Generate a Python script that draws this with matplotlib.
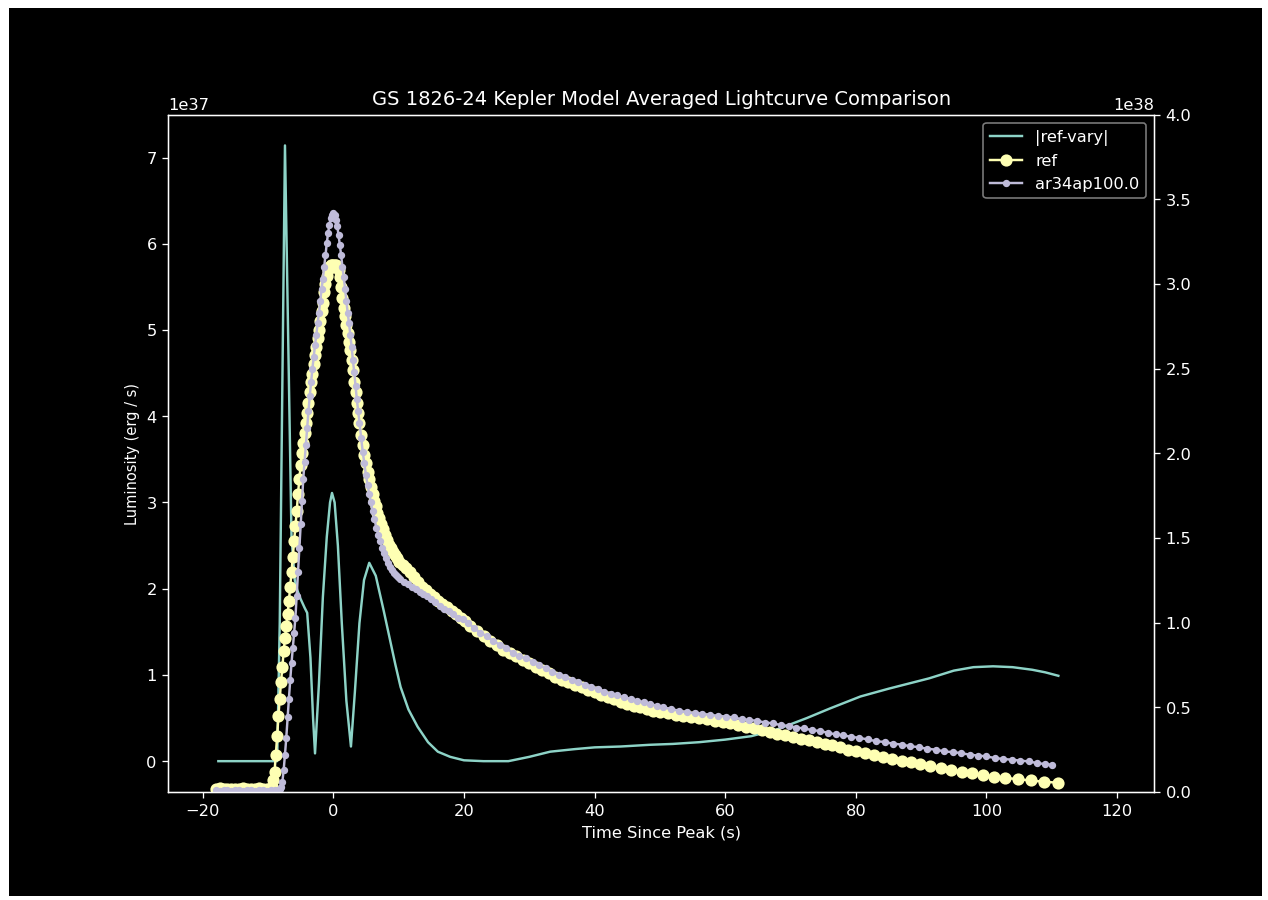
import matplotlib
matplotlib.use('Agg')
import matplotlib.pyplot as plt
from matplotlib.patches import Rectangle

plt.style.use('dark_background')

# |ref-vary| difference curve (units of 1e37 erg/s)
diff_t = [-17.6, -12.0, -8.6, -8.2, -7.4, -6.4, -5.9, -5.5, -5.0, -4.4, -4.0, -3.5, -3.1, -2.8,
          -2.2, -1.6, -1.0, -0.5, -0.2, 0.2, 0.7, 1.3, 2.0, 2.7, 3.3, 4.0, 4.7, 5.5, 6.5,
          7.7, 8.7, 9.5, 10.3, 11.5, 12.9, 14.5, 16.0, 17.9, 20.0, 23.0, 26.8, 30.0, 33.2,
          37.0, 40.0, 44.0, 48.5, 52.0, 56.0, 60.0, 64.0, 68.0, 72.5, 76.0, 80.7, 85.0,
          91.2, 95.0, 98.0, 101.0, 104.0, 107.0, 109.0, 111.0]
diff_v = [0.0, 0.0, 0.0, 1.6, 7.14, 2.6, 2.1, 1.98, 1.88, 1.78, 1.72, 1.2, 0.5, 0.09,
          0.9, 1.9, 2.6, 3.0, 3.11, 3.0, 2.5, 1.6, 0.7, 0.17, 0.8, 1.6, 2.1, 2.30, 2.15,
          1.75, 1.40, 1.12, 0.86, 0.60, 0.40, 0.22, 0.11, 0.05, 0.01, 0.0, 0.0, 0.05, 0.11,
          0.14, 0.16, 0.17, 0.19, 0.20, 0.22, 0.25, 0.29, 0.37, 0.50, 0.61, 0.75, 0.84,
          0.96, 1.05, 1.09, 1.10, 1.09, 1.06, 1.03, 0.99]

# ref averaged lightcurve (units of 1e38 erg/s)
ref_t = [-18.0, -17.4, -16.8, -16.2, -15.6, -15.0, -14.4, -13.8, -13.2, -12.6, -12.0, -11.4,
         -10.8, -10.2, -9.6,
         -9.4, -9.2, -9.0, -8.8, -8.6, -8.4, -8.2, -8.0, -7.8, -7.6, -7.4, -7.2, -7.0,
         -6.8, -6.6, -6.4, -6.2, -6.0, -5.8, -5.6, -5.4, -5.2, -5.0, -4.8, -4.6, -4.4,
         -4.2, -4.0, -3.8, -3.6, -3.4, -3.2, -3.0, -2.8, -2.6, -2.4, -2.2, -2.0, -1.8,
         -1.6, -1.4, -1.2, -1.0, -0.8, -0.6, -0.4, -0.2, 0.0, 0.2, 0.4, 0.6, 0.8, 1.0,
         1.2, 1.4, 1.6, 1.8, 2.0, 2.2, 2.4, 2.6, 2.8, 3.0, 3.2, 3.4, 3.6, 3.8, 4.0,
         4.25, 4.5, 4.75, 5.0, 5.25, 5.5, 5.75, 6.0, 6.25, 6.5, 6.75, 7.0, 7.3, 7.6, 7.9,
         8.2, 8.5, 8.8, 9.1, 9.4, 9.7, 10.0,
         10.6, 11.2, 11.8, 12.4, 13.0, 13.6, 14.2, 14.8,
         15.4, 16.0, 16.7, 17.4, 18.1, 18.8, 19.5, 20.2, 21.0, 22.0, 23.0, 24.0, 25.0,
         26.0, 27.0, 28.0, 29.0, 30.0, 31.0, 32.0, 33.0, 34.0, 35.0, 36.0, 37.0, 38.0,
         39.0, 40.0, 41.0, 42.0, 43.0, 44.0, 45.0, 46.0, 47.0, 48.0, 49.0, 50.0, 51.2,
         52.4, 53.6, 54.8, 56.0, 57.2, 58.4, 59.6, 60.8, 62.0, 63.2, 64.4, 65.6, 66.8,
         68.0, 69.2, 70.4, 71.6, 72.8, 74.0, 75.2, 76.4, 77.6, 78.8, 80.0, 81.4, 82.8,
         84.2, 85.6, 87.0, 88.4, 89.8, 91.4, 93.0, 94.6, 96.2, 97.8, 99.4, 101.1, 102.9,
         104.8, 106.8, 108.8, 110.9]
ref_v = [0.02, 0.025, 0.02, 0.02, 0.015, 0.02, 0.02, 0.025, 0.02, 0.02, 0.02, 0.025,
         0.02, 0.02, 0.025,
         0.03, 0.07, 0.12, 0.22, 0.33, 0.45, 0.55, 0.65, 0.74, 0.83, 0.91, 0.98, 1.05,
         1.13, 1.21, 1.30, 1.39, 1.48, 1.57, 1.66, 1.76, 1.85, 1.93, 2.00, 2.06, 2.12,
         2.18, 2.24, 2.30, 2.36, 2.42, 2.47, 2.53, 2.58, 2.63, 2.68, 2.73, 2.78, 2.84,
         2.89, 2.95, 3.00, 3.05, 3.08, 3.10, 3.11, 3.11, 3.11, 3.11, 3.11, 3.10, 3.08, 3.04,
         2.98, 2.92, 2.86, 2.81, 2.76, 2.71, 2.66, 2.61, 2.55, 2.49, 2.42, 2.36, 2.30, 2.24, 2.18,
         2.11, 2.05, 1.99, 1.94, 1.89, 1.85, 1.80, 1.76, 1.72, 1.69, 1.65, 1.62, 1.58, 1.55, 1.52,
         1.49, 1.46, 1.44, 1.42, 1.40, 1.38, 1.36,
         1.34, 1.32, 1.30, 1.27, 1.24, 1.21, 1.19, 1.17,
         1.15, 1.13, 1.11, 1.09, 1.07, 1.05, 1.03, 1.01, 0.98, 0.95, 0.92, 0.89,
         0.87, 0.84, 0.82, 0.80, 0.78, 0.76, 0.74, 0.72, 0.70, 0.68, 0.66, 0.65, 0.63, 0.62,
         0.60, 0.59, 0.57, 0.56, 0.55, 0.53, 0.52, 0.51, 0.50, 0.49, 0.48, 0.47, 0.465,
         0.455, 0.45, 0.44, 0.435, 0.43, 0.42, 0.415, 0.405, 0.395, 0.385, 0.375, 0.365,
         0.355, 0.345, 0.335, 0.325, 0.315, 0.305, 0.295, 0.285, 0.275, 0.265, 0.25, 0.24,
         0.23, 0.22, 0.205, 0.195, 0.185, 0.175, 0.165, 0.155, 0.14, 0.13, 0.12, 0.11, 0.10,
         0.09, 0.083, 0.076, 0.068, 0.06, 0.055]

# ar34ap100.0 model lightcurve (units of 1e38 erg/s)
mod_t = [-18.0, -17.4, -16.8, -16.2, -15.6, -15.0, -14.4, -13.8, -13.2, -12.6, -12.0, -11.4,
         -10.8, -10.2, -9.6, -9.0, -8.5,
         -8.2, -8.0, -7.8, -7.6, -7.4, -7.2, -7.0, -6.8, -6.6, -6.4, -6.2, -6.0, -5.8,
         -5.6, -5.4, -5.2, -5.0, -4.8, -4.6, -4.4, -4.2, -4.0, -3.8, -3.6, -3.4, -3.2,
         -3.0, -2.8, -2.6, -2.4, -2.2, -2.0, -1.8, -1.6, -1.4, -1.2, -1.0, -0.8, -0.6,
         -0.4, -0.2, 0.0, 0.2, 0.4, 0.6, 0.8, 1.0, 1.2, 1.4, 1.6, 1.8, 2.0, 2.2, 2.4,
         2.6, 2.8, 3.0, 3.2, 3.4, 3.6, 3.8, 4.0, 4.25, 4.5, 4.75, 5.0, 5.25, 5.5, 5.75,
         6.0, 6.3, 6.6, 6.9, 7.2, 7.5, 7.8, 8.1, 8.4, 8.7, 9.0, 9.3, 9.6, 9.9, 10.2,
         10.8, 11.4, 12.0, 12.6, 13.2, 13.8, 14.4, 15.0,
         15.6, 16.3, 17.0, 17.7, 18.4, 19.1, 19.8, 20.6, 21.5, 22.5, 23.5, 24.5, 25.5,
         26.5, 27.5, 28.5, 29.5, 30.5, 31.5, 32.5, 33.5, 34.5, 35.5, 36.5, 37.5, 38.5,
         39.5, 40.5, 41.5, 42.5, 43.5, 44.5, 45.5, 46.5, 47.5, 48.5, 49.5, 50.5, 51.7,
         52.9, 54.1, 55.3, 56.5, 57.7, 58.9, 60.1, 61.3, 62.5, 63.7, 64.9, 66.1, 67.3,
         68.5, 69.7, 70.9, 72.1, 73.3, 74.5, 75.7, 76.9, 78.1, 79.3, 80.5, 81.8, 83.1,
         84.4, 85.7, 87.0, 88.3, 89.6, 90.9, 92.2, 93.5, 94.8, 96.1, 97.4, 98.7, 100.0,
         101.3, 102.6, 103.9, 105.2, 106.5, 107.8, 109.0, 110.1]
mod_v = [0.01, 0.008, 0.01, 0.01, 0.008, 0.01, 0.01, 0.008, 0.01, 0.01, 0.008, 0.01,
         0.01, 0.008, 0.01, 0.01, 0.01,
         0.015, 0.03, 0.06, 0.13, 0.22, 0.32, 0.44, 0.55, 0.66, 0.76, 0.85, 0.94, 1.03,
         1.16, 1.30, 1.44, 1.58, 1.72, 1.85, 1.95, 2.05, 2.15, 2.25, 2.34, 2.42, 2.50,
         2.57, 2.64, 2.70, 2.77, 2.83, 2.90, 2.97, 3.03, 3.10, 3.17, 3.24, 3.30, 3.35,
         3.39, 3.41, 3.42, 3.41, 3.38, 3.34, 3.29, 3.23, 3.17, 3.10, 3.04, 2.97, 2.90, 2.83, 2.77,
         2.70, 2.63, 2.55, 2.48, 2.40, 2.32, 2.25, 2.18, 2.09, 2.01, 1.94, 1.87, 1.81, 1.76, 1.71,
         1.66, 1.61, 1.56, 1.52, 1.48, 1.44, 1.41, 1.38, 1.35, 1.33, 1.31, 1.295, 1.28, 1.27, 1.26,
         1.24, 1.23, 1.21, 1.20, 1.18, 1.17, 1.16, 1.14,
         1.12, 1.10, 1.08, 1.07, 1.05, 1.03, 1.02, 1.00, 0.97, 0.94, 0.92, 0.89,
         0.87, 0.85, 0.82, 0.80, 0.79, 0.77, 0.75, 0.73, 0.71, 0.69, 0.68, 0.66, 0.65, 0.63,
         0.62, 0.61, 0.59, 0.58, 0.57, 0.56, 0.55, 0.54, 0.53, 0.52, 0.51, 0.50, 0.49, 0.48,
         0.47, 0.465, 0.46, 0.455, 0.45, 0.445, 0.44, 0.43, 0.425, 0.42, 0.41, 0.405, 0.395,
         0.39, 0.38, 0.375, 0.365, 0.36, 0.35, 0.34, 0.335, 0.325, 0.32, 0.31, 0.30, 0.295,
         0.285, 0.28, 0.27, 0.265, 0.255, 0.25, 0.24, 0.235, 0.23, 0.22, 0.215, 0.21, 0.20,
         0.195, 0.19, 0.185, 0.18, 0.17, 0.165, 0.16]

DPI = 117
fig = plt.figure(figsize=(1268.4 / DPI, 900.4 / DPI), dpi=DPI, facecolor='white')
# black canvas inside a thin white border, like the screenshot
fig.add_artist(Rectangle((9 / 1268, 4 / 900), 1253 / 1268, 888 / 900,
                         transform=fig.transFigure, facecolor='black',
                         edgecolor='none', zorder=-10))

ax1 = fig.add_axes([168 / 1268, 1 - 792 / 900, (1154 - 168) / 1268, (792 - 115) / 900])
ax1.set_facecolor('black')
ax2 = ax1.twinx()

l1, = ax1.plot(diff_t, [v * 1e37 for v in diff_v], color='#8dd3c7', lw=1.5,
               label='|ref-vary|')
l2, = ax2.plot(ref_t, [v * 1e38 for v in ref_v], color='#feffb3', marker='o', ms=6.5,
               lw=1.5, label='ref')
l3, = ax2.plot(mod_t, [v * 1e38 for v in mod_v], color='#bfbbd9', marker='.', ms=7,
               lw=1.5, label='ar34ap100.0')

ax1.set_xlim(-25.3, 125.7)
ax2.set_ylim(0, 4e38)

ax1.set_xlabel('Time Since Peak (s)')
ax1.set_ylabel('Luminosity (erg / s)', fontsize=9,
               family=['Liberation Sans Narrow', 'DejaVu Sans'])
ax1.set_title('GS 1826-24 Kepler Model Averaged Lightcurve Comparison')

ax2.legend(handles=[l1, l2, l3], loc='upper right', facecolor='black',
           edgecolor='0.6')

fig.savefig('out.png', dpi=DPI, facecolor='white')
